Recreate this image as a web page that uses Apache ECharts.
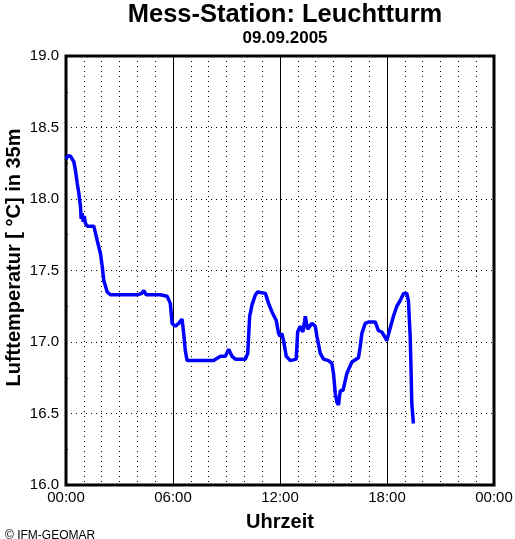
<!DOCTYPE html>
<html>
<head>
<meta charset="utf-8">
<script src="https://cdn.jsdelivr.net/npm/echarts@6/dist/echarts.min.js"></script>
<style>html,body{margin:0;padding:0;background:#fff;}#c{width:515px;height:539px;}</style>
</head>
<body>
<div id="c"></div>
<script>
var titleText = "Mess-Station: Leuchtturm";
var subtitleText = "09.09.2005";
var xAxisName = "Uhrzeit";
var yAxisName = "Lufttemperatur [ °C] in 35m";
var creditText = "© IFM-GEOMAR";
var xTickHours = [0, 6, 12, 18, 24];
var yTicks = [16.0, 16.5, 17.0, 17.5, 18.0, 18.5, 19.0];

var hours = [0, 0.1, 0.25, 0.44, 0.53, 0.63, 0.72, 0.81, 0.85, 0.9, 0.96, 1.02, 1.09, 1.19, 1.56, 1.75, 1.93, 2.03, 2.12, 2.31, 2.49, 3.0, 3.5, 4.0, 4.25, 4.36, 4.5, 5.0, 5.29, 5.67, 5.85, 5.95, 6.13, 6.32, 6.51, 6.6, 6.69, 6.79, 7.54, 8.28, 8.66, 8.94, 9.12, 9.31, 9.5, 10.06, 10.19, 10.30, 10.43, 10.62, 10.75, 11.18, 11.36, 11.55, 11.79, 11.92, 12.01, 12.1, 12.2, 12.35, 12.58, 12.91, 12.99, 13.13, 13.28, 13.42, 13.55, 13.79, 13.98, 14.07, 14.26, 14.44, 14.72, 14.91, 15.0, 15.1, 15.19, 15.28, 15.38, 15.53, 15.75, 16.03, 16.4, 16.5, 16.59, 16.78, 16.96, 17.34, 17.52, 17.71, 17.9, 17.99, 18.14, 18.36, 18.55, 18.74, 18.93, 19.11, 19.2, 19.3, 19.35, 19.39, 19.48];
var temps = [18.28, 18.30, 18.30, 18.26, 18.20, 18.11, 18.04, 17.95, 17.86, 17.90, 17.84, 17.88, 17.83, 17.81, 17.81, 17.71, 17.62, 17.53, 17.43, 17.35, 17.33, 17.33, 17.33, 17.33, 17.34, 17.36, 17.33, 17.33, 17.33, 17.32, 17.27, 17.13, 17.11, 17.13, 17.16, 17.06, 16.94, 16.87, 16.87, 16.87, 16.90, 16.90, 16.95, 16.90, 16.88, 16.88, 16.92, 17.18, 17.26, 17.33, 17.35, 17.34, 17.27, 17.21, 17.15, 17.06, 17.04, 17.06, 17.01, 16.90, 16.87, 16.88, 17.07, 17.11, 17.07, 17.18, 17.09, 17.13, 17.11, 17.04, 16.92, 16.88, 16.87, 16.85, 16.78, 16.64, 16.58, 16.56, 16.66, 16.66, 16.78, 16.86, 16.89, 16.97, 17.06, 17.13, 17.14, 17.14, 17.08, 17.07, 17.03, 17.01, 17.08, 17.18, 17.25, 17.29, 17.34, 17.34, 17.29, 17.04, 16.80, 16.57, 16.43];

var seriesData = hours.map(function (h, i) { return [h, temps[i]]; });
function pad(n) { return (n < 10 ? "0" : "") + n; }

var chart = echarts.init(document.getElementById('c'));
var font = "Liberation Sans, Arial, Helvetica, sans-serif";
chart.setOption({
  animation: false,
  backgroundColor: '#ffffff',
  title: [
    { text: titleText, left: 280, textAlign: 'center', top: -3,
      textStyle: { fontFamily: font, fontSize: 25.5, fontWeight: 'bold', color: '#000' } },
    { text: subtitleText, left: 280, textAlign: 'center', top: 25,
      textStyle: { fontFamily: font, fontSize: 17, fontWeight: 'bold', color: '#000' } },
    { text: creditText, left: 0, top: 525,
      textStyle: { fontFamily: font, fontSize: 12, fontWeight: 'normal', color: '#000' } }
  ],
  graphic: [
    { type: 'text', x: 14.5, y: 257.5, rotation: Math.PI / 2,
      style: { text: yAxisName, fontFamily: font, fontSize: 20, fontWeight: 'bold', fill: '#000',
        textAlign: 'center', textVerticalAlign: 'middle' } }
  ],
  grid: { left: 66, right: 21, top: 56, bottom: 54, outerBoundsMode: 'none', containLabel: false,
    show: true, borderColor: '#000', borderWidth: 3, backgroundColor: 'transparent' },
  xAxis: {
    type: 'value', min: xTickHours[0], max: xTickHours[xTickHours.length - 1], interval: 6,
    name: xAxisName, nameLocation: 'middle', nameGap: 27,
    nameTextStyle: { fontFamily: font, fontSize: 20, fontWeight: 'bold', color: '#000' },
    axisLine: { show: false }, axisTick: { show: false },
    axisLabel: { fontFamily: font, fontSize: 15, color: '#000', margin: 5,
      formatter: function (v) { return pad(Math.round(v) % 24) + ":00"; } },
    splitLine: { show: true, lineStyle: { color: '#000', width: 1, type: 'solid' } },
    minorTick: { show: false, splitNumber: 6 },
    minorSplitLine: { show: true, lineStyle: { color: '#000', width: 1, type: [1, 4] } }
  },
  yAxis: {
    type: 'value', min: yTicks[0], max: yTicks[yTicks.length - 1], interval: 0.5,
    axisLine: { show: false }, axisTick: { show: false, inside: true },
    axisLabel: { fontFamily: font, fontSize: 15, color: '#000', margin: 7,
      formatter: function (v) { return v.toFixed(1); } },
    splitLine: { show: true, lineStyle: { color: '#000', width: 1, type: [1, 4] } },
    minorTick: { show: true, splitNumber: 2, length: 2, lineStyle: { color: '#000' } }
  },
  series: [{
    type: 'line', data: seriesData, showSymbol: false, symbol: 'none',
    lineStyle: { color: '#0000ff', width: 3.5 }, z: 5
  }]
});
</script>
</body>
</html>
